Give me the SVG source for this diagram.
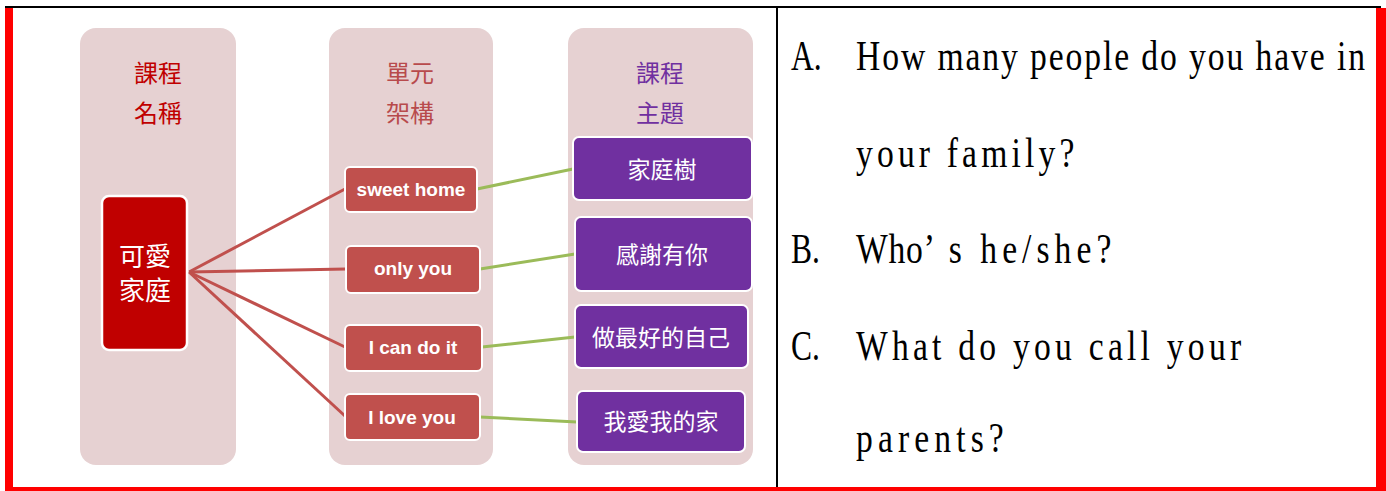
<svg xmlns="http://www.w3.org/2000/svg" width="1386" height="491" viewBox="0 0 1386 491">
<style>
.col{fill:#e6d1d2}
.cj{font-family:"Noto Sans CJK TC","Noto Sans CJK SC",sans-serif;text-anchor:middle}
.hd1{fill:#c00000;font-size:24px}
.hd2{fill:#b84a4c;font-size:24px}
.hd3{fill:#7030a0;font-size:24px}
.root{fill:#c00000;stroke:#ffffff;stroke-width:2.5}
.unit{fill:#c0504d;stroke:#ffffff;stroke-width:2}
.topic{fill:#7030a0;stroke:#ffffff;stroke-width:2}
.wt{fill:#ffffff}
.en{font-family:"Liberation Sans",Arial,sans-serif;font-weight:bold;font-size:19px;fill:#ffffff;text-anchor:middle}
.rl{stroke:#c0504d;stroke-width:3;fill:none}
.gl{stroke:#9bbb59;stroke-width:3;fill:none}
.q{font-family:"Liberation Serif","Times New Roman",serif;font-size:42px;fill:#000000}
</style>
<rect x="0" y="0" width="1386" height="491" fill="#ffffff"/>
<g id="frame">
<rect x="5" y="6" width="1376" height="2" fill="#000000"/>
<rect x="5" y="8" width="8" height="483" fill="#ff0000"/>
<rect x="5" y="487" width="1381" height="4" fill="#ff0000"/>
<rect x="1376" y="8" width="10" height="483" fill="#ff0000"/>
<rect x="776" y="8" width="2" height="479" fill="#000000"/>
</g>
<g id="col1">
<rect class="col" x="80" y="28" width="156" height="437" rx="16"/>
<text class="cj hd1" x="158" y="81.5">課程</text>
<text class="cj hd1" x="158" y="122">名稱</text>
</g>
<g id="col2">
<rect class="col" x="329" y="28" width="164" height="437" rx="16"/>
<text class="cj hd2" x="410" y="81.5">單元</text>
<text class="cj hd2" x="410" y="122">架構</text>
</g>
<g id="col3">
<rect class="col" x="568" y="28" width="185" height="437" rx="16"/>
<text class="cj hd3" x="660" y="81.5">課程</text>
<text class="cj hd3" x="660" y="122">主題</text>
</g>
<g id="connectors">
<line class="rl" x1="189" y1="272" x2="345" y2="189"/>
<line class="rl" x1="189" y1="272" x2="346" y2="269"/>
<line class="rl" x1="189" y1="272" x2="345" y2="347"/>
<line class="rl" x1="189" y1="272" x2="345" y2="416"/>
<line class="gl" x1="477" y1="189" x2="573" y2="169"/>
<line class="gl" x1="480" y1="269" x2="575" y2="254"/>
<line class="gl" x1="482" y1="347" x2="575" y2="337"/>
<line class="gl" x1="480" y1="417" x2="577" y2="422"/>
</g>
<g id="node-root">
<rect class="root" x="102" y="196" width="85" height="154" rx="7"/>
<text class="cj wt" x="145" y="266" font-size="26">可愛</text>
<text class="cj wt" x="145" y="300" font-size="26">家庭</text>
</g>
<g id="node-sweet-home">
<rect class="unit" x="345" y="167" width="132" height="45" rx="5"/>
<text class="en" x="411" y="196" font-size="20">sweet home</text>
</g>
<g id="node-only-you">
<rect class="unit" x="346" y="246" width="134" height="47" rx="5"/>
<text class="en" x="413" y="275">only you</text>
</g>
<g id="node-i-can-do-it">
<rect class="unit" x="345" y="325" width="137" height="46" rx="5"/>
<text class="en" x="413" y="354">I can do it</text>
</g>
<g id="node-i-love-you">
<rect class="unit" x="345" y="394" width="135" height="46" rx="5"/>
<text class="en" x="412" y="424">I love you</text>
</g>
<g id="node-family-tree">
<rect class="topic" x="573" y="137" width="179" height="63" rx="6"/>
<text class="cj wt" x="662" y="178" font-size="23">家庭樹</text>
</g>
<g id="node-thanks">
<rect class="topic" x="575" y="217" width="177" height="74" rx="6"/>
<text class="cj wt" x="662" y="262.5" font-size="23">感謝有你</text>
</g>
<g id="node-best-self">
<rect class="topic" x="575" y="305" width="173" height="63" rx="6"/>
<text class="cj wt" x="661" y="346" font-size="23">做最好的自己</text>
</g>
<g id="node-love-home">
<rect class="topic" x="577" y="391" width="168" height="61" rx="6"/>
<text class="cj wt" x="661" y="430" font-size="23">我愛我的家</text>
</g>
<g id="questions">
<text class="q" transform="translate(791,70) scale(0.75,1)">A.</text>
<text class="q" transform="translate(856,70) scale(0.8,1)" letter-spacing="2.4">How many people do you have in</text>
<text class="q" transform="translate(856,167) scale(0.8,1)" letter-spacing="5.2">your family?</text>
<text class="q" transform="translate(791,263) scale(0.75,1)">B.</text>
<text class="q" transform="translate(856,263) scale(0.8,1)"><tspan x="0" letter-spacing="1">Who’</tspan><tspan x="116" letter-spacing="6.3">s he/she?</tspan></text>
<text class="q" transform="translate(791,360) scale(0.75,1)">C.</text>
<text class="q" transform="translate(856,360) scale(0.8,1)" letter-spacing="5.3">What do you call your</text>
<text class="q" transform="translate(856,452) scale(0.8,1)" letter-spacing="6.4">parents?</text>
</g>
</svg>
